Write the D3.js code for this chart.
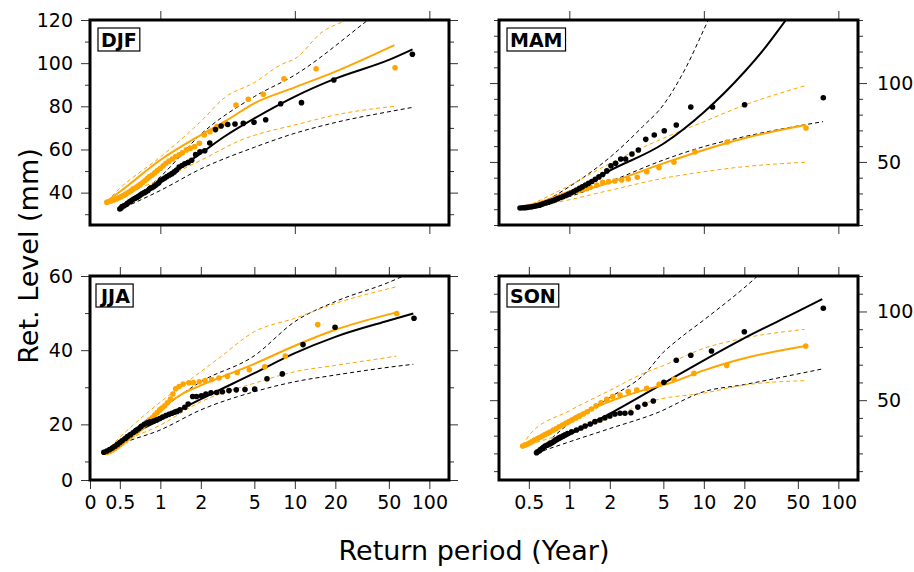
<!DOCTYPE html>
<html>
<head>
<meta charset="utf-8">
<script src="https://cdn.jsdelivr.net/npm/d3@7"></script>
<style>
  body { margin: 0; background: #fff; }
  svg { display: block; font-family: "DejaVu Sans", sans-serif; }
</style>
</head>
<body>
<svg id="chart" width="914" height="572"></svg>
<script>
// return period (years) vs return level (mm)
// black = one dataset, orange = the other; fit + dashed confidence band

// ---- DJF ----
const djfBlackPts = [[74.8,104.1],[19.5,92.2],[11.2,81.7],[7.85,81.2],[6.07,73.8],[4.97,72.6],[4.14,72.1],[3.59,71.8],[3.17,71.6],[2.83,70.9],[2.57,69.2],[2.33,63.0],[2.14,59.4],[1.97,58.9],[1.83,57.6],[1.71,55.0],[1.61,54.0],[1.52,53.4],[1.45,52.6],[1.38,51.8],[1.32,50.5],[1.27,49.6],[1.22,48.8],[1.17,48.2],[1.12,47.5],[1.08,46.8],[1.04,46.2],[1.00,45.5],[0.97,44.5],[0.93,43.6],[0.90,42.9],[0.87,42.4],[0.84,41.9],[0.81,41.0],[0.78,40.4],[0.76,40.0],[0.73,39.5],[0.71,38.9],[0.69,38.3],[0.67,37.8],[0.65,37.4],[0.63,36.9],[0.61,36.3],[0.59,35.7],[0.57,35.1],[0.56,34.5],[0.54,34.0],[0.52,33.5],[0.51,32.9],[0.50,32.4]];
const djfOrangePts = [[55.6,97.9],[14.4,97.4],[8.3,92.8],[5.83,85.6],[4.51,83.3],[3.65,80.6],[3.06,72.1],[2.64,70.6],[2.34,68.2],[2.12,66.7],[1.95,62.9],[1.80,61.3],[1.67,60.5],[1.56,59.8],[1.46,58.5],[1.38,57.5],[1.30,56.7],[1.23,55.6],[1.16,54.6],[1.10,53.6],[1.05,52.4],[1.00,51.3],[0.95,50.2],[0.91,49.2],[0.87,48.2],[0.83,47.4],[0.80,46.5],[0.77,45.6],[0.74,44.7],[0.71,43.9],[0.68,43.0],[0.66,42.3],[0.63,41.8],[0.61,41.0],[0.59,40.4],[0.57,39.8],[0.55,39.2],[0.53,38.6],[0.51,38.1],[0.49,37.6],[0.47,37.1],[0.45,36.6],[0.43,36.1],[0.41,35.8],[0.40,35.5]];
const djfBlackFit = [[0.5,32.5],[0.7,38.5],[1,45.5],[2,58.2],[3,66],[5,74.4],[10,84.5],[20,92.8],[50,101.5],[75,106.4]];
const djfBlackUpper = [[0.49,32.7],[1,47.4],[2.04,67.5],[5,84.5],[10,94.5],[35,120],[75,136]];
const djfBlackLower = [[0.49,32],[1,41],[2,51],[5,61],[10,67.5],[20,72.5],[50,77.5],[75,79.5]];
const djfOrangeFit = [[0.4,36],[0.5,40.4],[1,55.1],[2,66.7],[3,72.9],[5,81.4],[10,88.8],[20,96.1],[55,108.4]];
const djfOrangeUpper = [[0.4,36],[0.5,42],[1,56.5],[2,73],[3,84],[5,91],[8,99.5],[10,102],[16,114.5],[24,120],[55,135]];
const djfOrangeLower = [[0.4,35.5],[0.5,38.5],[1,46],[2,55],[4,64.4],[11,72],[20,76],[55,80]];

// ---- MAM ----
const mamBlackPts = [[77.3,90.7],[20.1,86.3],[11.6,84.8],[8.0,84.8],[6.24,73.4],[5.08,69.8],[4.28,67.1],[3.70,64.3],[3.26,57.6],[2.92,55.0],[2.62,51.9],[2.41,51.9],[2.21,49.1],[2.04,47.5],[1.90,44.3],[1.77,42.0],[1.66,40.5],[1.56,39.0],[1.47,37.6],[1.39,36.4],[1.32,35.4],[1.25,34.2],[1.19,33.2],[1.13,32.2],[1.08,31.2],[1.03,30.3],[0.98,29.5],[0.94,28.7],[0.90,28.0],[0.86,27.4],[0.82,26.7],[0.79,26.1],[0.76,25.5],[0.73,25.0],[0.70,24.5],[0.67,24.0],[0.64,23.5],[0.62,23.0],[0.60,22.6],[0.57,22.2],[0.55,21.9],[0.53,21.6],[0.51,21.4],[0.49,21.2],[0.47,21.0],[0.45,20.9],[0.43,20.8]];
const mamOrangePts = [[57.5,71.5],[14.9,62.6],[8.6,56.3],[6.0,49.8],[4.64,46.4],[3.76,43.8],[3.2,40.3],[2.74,39.2],[2.45,38.5],[2.18,37.9],[1.96,37.5],[1.77,37.1],[1.60,35.4],[1.43,33.9],[1.35,33.2],[1.27,32.6],[1.20,32.0],[1.13,31.4],[1.06,30.8],[1.00,30.2],[0.95,29.5],[0.90,28.8],[0.85,28.0],[0.81,27.3],[0.77,26.6],[0.74,25.9],[0.70,25.2],[0.67,24.6],[0.64,24.0],[0.61,23.5],[0.59,23.0],[0.56,22.6],[0.54,22.2],[0.52,21.9],[0.50,21.6],[0.48,21.3]];
const mamBlackFit = [[0.43,20.8],[0.7,24.5],[1,30],[2,44.5],[5,61.5],[10,81.5],[20,107],[27.7,121],[40.8,140],[50,150]];
const mamBlackUpper = [[0.43,21],[0.7,26.5],[1,34.3],[2.1,54.4],[3.5,72.3],[5,86.1],[7.2,108.3],[10.8,140],[15,165]];
const mamBlackLower = [[0.43,20.5],[1,28],[2,37.5],[5,51.2],[10,59.7],[20,66],[50,72.8],[77,75.5]];
const mamOrangeFit = [[0.47,21],[1,29.5],[2,37],[5,49.1],[10,57.6],[20,65],[57,73.4]];
const mamOrangeUpper = [[0.47,21.2],[1,35],[2,49],[5,65],[10,75.5],[20,86],[57,98.4]];
const mamOrangeLower = [[0.47,20.8],[1,26],[2,32],[5,39.6],[10,43.8],[20,47],[57,49.8]];

// ---- JJA ----
const jjaBlackPts = [[76.9,48.6],[19.9,46.2],[11.5,41.5],[8.07,33.6],[6.21,32.3],[5.03,29.5],[4.26,29.4],[3.67,29.3],[3.24,29.1],[2.89,28.8],[2.62,28.6],[2.38,28.5],[2.18,28.2],[2.02,27.7],[1.86,27.5],[1.74,27.5],[1.61,25.5],[1.52,24.6],[1.40,23.9],[1.33,23.5],[1.28,23.3],[1.22,23.0],[1.16,22.7],[1.10,22.4],[1.04,22.0],[0.99,21.6],[0.94,21.2],[0.89,20.9],[0.84,20.7],[0.80,20.4],[0.76,20.0],[0.72,19.4],[0.69,18.8],[0.66,18.3],[0.63,17.8],[0.60,17.2],[0.57,16.7],[0.55,16.2],[0.52,15.6],[0.50,15.1],[0.48,14.6],[0.46,14.1],[0.44,13.6],[0.42,13.2],[0.40,12.8],[0.38,12.5]];
const jjaOrangePts = [[57.2,49.9],[14.8,46.9],[8.5,38.4],[5.97,35.5],[4.59,34.7],[3.73,34.0],[3.15,33.0],[2.73,32.5],[2.41,32.1],[2.15,31.8],[1.95,31.5],[1.76,31.3],[1.63,31.2],[1.48,30.9],[1.38,30.2],[1.30,29.6],[1.24,28.2],[1.19,26.8],[1.13,25.8],[1.08,25.0],[1.03,24.4],[0.99,23.9],[0.95,23.2],[0.91,22.5],[0.87,21.8],[0.83,21.2],[0.80,20.6],[0.77,20.0],[0.74,19.4],[0.71,18.8],[0.68,18.3],[0.65,17.8],[0.62,17.2],[0.60,16.7],[0.57,16.2],[0.55,15.6],[0.52,15.0],[0.50,14.5],[0.48,14.0],[0.46,13.5],[0.44,13.1],[0.42,12.7],[0.40,12.4]];
const jjaBlackFit = [[0.39,12.6],[0.5,15.5],[1,21.2],[2,26.8],[5,33.8],[10,39.2],[20,43.6],[50,48.0],[76,49.9]];
const jjaBlackUpper = [[0.39,12.6],[0.5,15.8],[1,23.9],[2,31.5],[5,38.5],[10,47.7],[20,53.1],[50,58.3],[76,61.2]];
const jjaBlackLower = [[0.39,12.4],[0.5,14.5],[1,18.5],[2,23.9],[5,28.8],[10,31.5],[20,33.3],[50,35.4],[76,36.2]];
const jjaOrangeFit = [[0.39,12.5],[0.5,15],[0.7,19],[1,24],[1.5,28.5],[2,30.5],[5,36.3],[10,41.2],[20,45.5],[57,50.2]];
const jjaOrangeUpper = [[0.39,12.6],[0.5,16.5],[1,26],[2,34.2],[2.8,38.2],[5,45],[10,48.6],[20,52.6],[57,57.1]];
const jjaOrangeLower = [[0.39,12.3],[0.5,14.8],[1,19.8],[2,26.1],[5,31.1],[10,34.2],[20,35.9],[57,38.4]];

// ---- SON ----
const sonBlackPts = [[77.3,101.8],[20.0,88.6],[11.4,77.7],[8.0,75.3],[6.24,72.5],[5.05,60.1],[4.21,49.5],[3.65,47.7],[3.23,46.1],[2.87,42.9],[2.59,42.6],[2.38,42.6],[2.18,42.2],[2.00,41.1],[1.84,40.1],[1.69,38.8],[1.55,37.9],[1.43,36.6],[1.31,35.4],[1.22,34.3],[1.13,33.2],[1.04,32.2],[0.97,31.2],[0.93,30.5],[0.90,29.9],[0.86,29.2],[0.83,28.5],[0.80,27.8],[0.78,27.2],[0.76,26.6],[0.74,26.0],[0.72,25.5],[0.70,25.0],[0.68,24.6],[0.66,24.2],[0.64,23.3],[0.63,22.8],[0.61,22.1],[0.60,21.5],[0.58,20.9],[0.57,20.4]];
const sonOrangePts = [[57.2,80.5],[14.8,69.6],[8.45,65.1],[6.0,61.8],[4.65,59.0],[3.76,56.7],[3.17,55.7],[2.74,54.8],[2.38,52.9],[2.10,52.0],[1.90,50.5],[1.72,48.5],[1.58,46.8],[1.46,45.0],[1.36,43.5],[1.27,42.2],[1.19,41.0],[1.12,40.0],[1.05,38.8],[0.99,37.8],[0.94,37.0],[0.89,36.0],[0.84,35.0],[0.80,34.0],[0.76,33.1],[0.72,32.1],[0.69,31.3],[0.66,30.6],[0.63,29.8],[0.60,29.0],[0.58,28.3],[0.55,27.5],[0.53,26.7],[0.51,26.0],[0.49,25.3],[0.47,24.7],[0.45,24.2]];
const sonBlackFit = [[0.57,20.4],[1,30.5],[2,42.4],[5,59.5],[10,72.5],[20,85],[50,100],[76,107]];
const sonBlackUpper = [[0.57,20.4],[1,37],[2,51.5],[3.65,65],[5,77],[6.4,84],[10,95.2],[24,118.7],[40,135]];
const sonBlackLower = [[0.57,20.2],[1,26.5],[2,34],[4.4,42.6],[10,54.8],[20,58.8],[50,64.8],[76,67.6]];
const sonOrangeFit = [[0.45,24.2],[0.7,31],[1,39],[1.84,48.2],[4.4,57.5],[5,58.5],[10,66.8],[20,73.6],[57,80.5]];
const sonOrangeUpper = [[0.45,24.5],[0.5,30],[1,44],[2,55.5],[3.65,65.5],[5,69.5],[10,79.2],[20,85],[56,89.9]];
const sonOrangeLower = [[0.45,24],[1,32],[1.84,38.8],[4.4,50.1],[10,54],[20,58.5],[56,61]];

// axis ticks
const xTicksTopRow = [1, 10, 100];
const xTicksBottomRow = [0.5, 1, 2, 5, 10, 20, 50, 100];
const djfYMajor = [40, 60, 80, 100, 120];
const djfYMinor = [30, 50, 70, 90, 110];
const mamYMajor = [50, 100];
const mamYMinor = [10, 20, 30, 40, 60, 70, 80, 90, 110, 120, 130, 140];
const jjaYMajor = [5, 20, 40, 60];   // bottom edge is annotated "0"
const jjaYMinor = [10, 30, 50];
const sonYMajor = [50, 100];
const sonYMinor = [10, 20, 30, 40, 60, 70, 80, 90, 110, 120];

const BLACK = "#000";
const ORANGE = "#ffa500";
const W = 359;

const panels = [
  {name: "DJF", left: 90, top: 20, h: 205, yDomain: [25, 120], yMajor: djfYMajor, yMinor: djfYMinor, labelSide: "left", bottomRow: false,
   bPts: djfBlackPts, oPts: djfOrangePts, bFit: djfBlackFit, bUp: djfBlackUpper, bLo: djfBlackLower, oFit: djfOrangeFit, oUp: djfOrangeUpper, oLo: djfOrangeLower},
  {name: "MAM", left: 499, top: 20, h: 205, yDomain: [10, 140], yMajor: mamYMajor, yMinor: mamYMinor, labelSide: "right", bottomRow: false,
   bPts: mamBlackPts, oPts: mamOrangePts, bFit: mamBlackFit, bUp: mamBlackUpper, bLo: mamBlackLower, oFit: mamOrangeFit, oUp: mamOrangeUpper, oLo: mamOrangeLower},
  {name: "JJA", left: 90, top: 276, h: 204, yDomain: [5, 60], yMajor: jjaYMajor, yMinor: jjaYMinor, labelSide: "left", bottomRow: true, zeroEdge: true,
   bPts: jjaBlackPts, oPts: jjaOrangePts, bFit: jjaBlackFit, bUp: jjaBlackUpper, bLo: jjaBlackLower, oFit: jjaOrangeFit, oUp: jjaOrangeUpper, oLo: jjaOrangeLower},
  {name: "SON", left: 499, top: 276, h: 204, yDomain: [5, 120], yMajor: sonYMajor, yMinor: sonYMinor, labelSide: "right", bottomRow: true,
   bPts: sonBlackPts, oPts: sonOrangePts, bFit: sonBlackFit, bUp: sonBlackUpper, bLo: sonBlackLower, oFit: sonOrangeFit, oUp: sonOrangeUpper, oLo: sonOrangeLower}
];

const svg = d3.select("#chart");

function styleTicks(sel) {
  sel.select(".domain").remove();
  sel.selectAll(".tick line").attr("stroke", "#333").attr("stroke-width", 1);
  sel.selectAll(".tick text").attr("fill", "#000").style("font-size", "19px")
    .style("font-family", '"DejaVu Sans", sans-serif');
}

panels.forEach((p, i) => {
  const g = svg.append("g").attr("transform", `translate(${p.left},${p.top})`);
  const x = d3.scaleLog().domain([0.3, 140]).range([0, W]);
  const y = d3.scaleLinear().domain(p.yDomain).range([p.h, 0]);

  g.append("clipPath").attr("id", "clip" + i)
    .append("rect").attr("width", W).attr("height", p.h);
  const plot = g.append("g").attr("clip-path", `url(#clip${i})`);

  const line = d3.line().x(d => x(d[0])).y(d => y(d[1])).curve(d3.curveMonotoneX);

  // confidence bands (dashed)
  [[p.bUp, BLACK], [p.bLo, BLACK], [p.oUp, ORANGE], [p.oLo, ORANGE]].forEach(([data, col]) => {
    plot.append("path").datum(data).attr("d", line)
      .attr("fill", "none").attr("stroke", col).attr("stroke-width", 1)
      .attr("stroke-dasharray", "4,3");
  });
  // fitted curves
  [[p.bFit, BLACK], [p.oFit, ORANGE]].forEach(([data, col]) => {
    plot.append("path").datum(data).attr("d", line)
      .attr("fill", "none").attr("stroke", col).attr("stroke-width", 2);
  });
  // empirical points
  plot.selectAll("circle.o").data(p.oPts).enter().append("circle").attr("class", "o")
    .attr("cx", d => x(d[0])).attr("cy", d => y(d[1])).attr("r", 2.8).attr("fill", ORANGE);
  plot.selectAll("circle.b").data(p.bPts).enter().append("circle").attr("class", "b")
    .attr("cx", d => x(d[0])).attr("cy", d => y(d[1])).attr("r", 2.8).attr("fill", BLACK);

  // x ticks, top and bottom
  const xt = p.bottomRow ? xTicksBottomRow : xTicksTopRow;
  g.append("g").call(d3.axisTop(x).tickValues(xt).tickSize(9).tickSizeOuter(0).tickFormat(""))
    .call(styleTicks);
  const xb = p.zeroEdge ? [0.3].concat(xt) : xt;
  g.append("g").attr("transform", `translate(0,${p.h})`)
    .call(d3.axisBottom(x).tickValues(xb).tickSize(9).tickSizeOuter(0).tickPadding(7)
      .tickFormat(d => !p.bottomRow ? "" : (d === 0.3 ? "0" : d3.format("~g")(d))))
    .call(styleTicks);

  // y ticks, both sides
  const fmtY = d => (p.zeroEdge && d === 5) ? "0" : d;
  g.append("g")
    .call(d3.axisLeft(y).tickValues(p.yMajor).tickSize(9).tickSizeOuter(0).tickPadding(8)
      .tickFormat(p.labelSide === "left" ? fmtY : ""))
    .call(styleTicks);
  g.append("g").call(d3.axisLeft(y).tickValues(p.yMinor).tickSize(5).tickSizeOuter(0).tickFormat(""))
    .call(styleTicks);
  g.append("g").attr("transform", `translate(${W},0)`)
    .call(d3.axisRight(y).tickValues(p.yMajor).tickSize(9).tickSizeOuter(0).tickPadding(10)
      .tickFormat(p.labelSide === "right" ? fmtY : ""))
    .call(styleTicks);
  g.append("g").attr("transform", `translate(${W},0)`)
    .call(d3.axisRight(y).tickValues(p.yMinor).tickSize(5).tickSizeOuter(0).tickFormat(""))
    .call(styleTicks);

  // frame
  g.append("rect").attr("width", W).attr("height", p.h)
    .attr("fill", "none").attr("stroke", "#000").attr("stroke-width", 3);

  // season label box
  const lg = g.append("g");
  const box = lg.append("rect");
  const lbl = lg.append("text").attr("x", 11).attr("y", 27)
    .style("font-family", '"DejaVu Sans", sans-serif').style("font-weight", "bold")
    .style("font-size", "19px").text(p.name);
  const bb = lbl.node().getBBox();
  box.attr("x", bb.x - 3).attr("y", 8).attr("width", bb.width + 6).attr("height", 23)
    .attr("fill", "#fff").attr("stroke", "#000").attr("stroke-width", 1.2);
});

svg.append("text")
  .attr("transform", "translate(38,256) rotate(-90)")
  .attr("text-anchor", "middle")
  .style("font-size", "27px")
  .text("Ret. Level (mm)");

svg.append("text")
  .attr("x", 474).attr("y", 560)
  .attr("text-anchor", "middle")
  .style("font-size", "27px")
  .text("Return period (Year)");
</script>
</body>
</html>
